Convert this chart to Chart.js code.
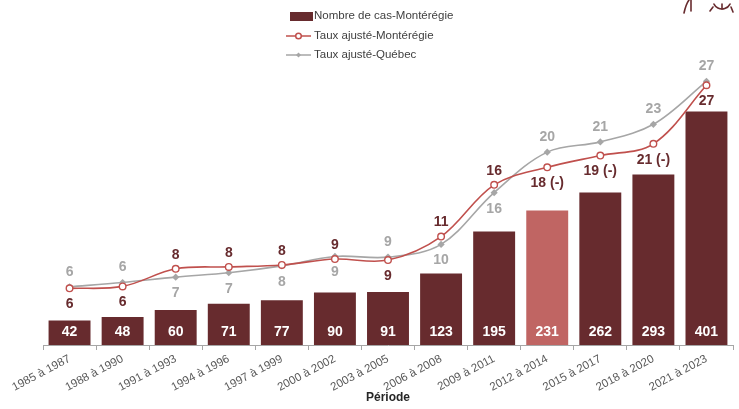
<!DOCTYPE html>
<html>
<head>
  <meta charset="utf-8">
  <script src="https://cdn.jsdelivr.net/npm/chart.js"></script>
  <style>
    html, body { margin: 0; padding: 0; background: #fff; }
    #wrap { width: 739px; height: 409px; position: relative; }
  </style>
</head>
<body>
  <div id="wrap"><canvas id="chart" width="739" height="409"></canvas></div>
  <script>
    // data
    const periods = ['1985 à 1987', '1988 à 1990', '1991 à 1993', '1994 à 1996', '1997 à 1999',
      '2000 à 2002', '2003 à 2005', '2006 à 2008', '2009 à 2011', '2012 à 2014',
      '2015 à 2017', '2018 à 2020', '2021 à 2023'];
    const casMonteregie = [42, 48, 60, 71, 77, 90, 91, 123, 195, 231, 262, 293, 401];
    const tauxMonteregie = [5.8, 6.0, 7.8, 8.0, 8.2, 8.8, 8.7, 11.1, 16.4, 18.2, 19.4, 20.6, 26.6];
    const tauxQuebec = [5.96, 6.4, 6.95, 7.4, 8.1, 9.07, 9.0, 10.3, 15.6, 19.75, 20.8, 22.6, 27.0];
    const suffixMonteregie = ['', '', '', '', '', '', '', '', '', ' (-)', ' (-)', ' (-)', ''];

    const FONT = '"Liberation Sans", Arial, sans-serif';
    const darkRed = '#672b2e';
    const lightRed = '#c06563';
    const lineRed = '#c0504d';
    const grey = '#a6a6a6';

    // where the Montérégie label sits (grey label goes the other way)
    const redLabelBelow = [true, true, false, false, false, false, true, false, false, true, true, true, true];

    const barColors = casMonteregie.map((v, i) => i === 9 ? lightRed : darkRed);

    const valueLabels = {
      id: 'valueLabels',
      afterDatasetsDraw(chart) {
        const ctx = chart.ctx;
        ctx.save();
        ctx.textAlign = 'center';
        ctx.textBaseline = 'middle';

        // bars: white numbers near the base
        const bars = chart.getDatasetMeta(0).data;
        ctx.font = 'bold 14px ' + FONT;
        ctx.fillStyle = '#ffffff';
        bars.forEach((b, i) => {
          ctx.fillText(casMonteregie[i], b.x, b.base - 13);
        });

        const red = chart.getDatasetMeta(1).data;
        const gry = chart.getDatasetMeta(2).data;
        red.forEach((p, i) => {
          const below = redLabelBelow[i];
          ctx.font = 'bold 14px ' + FONT;
          ctx.fillStyle = darkRed;
          ctx.fillText(Math.round(tauxMonteregie[i]) + suffixMonteregie[i], p.x, below ? p.y + 16 : p.y - 14);
        });
        gry.forEach((p, i) => {
          const below = !redLabelBelow[i];
          ctx.font = 'bold 14px ' + FONT;
          ctx.fillStyle = grey;
          ctx.fillText(Math.round(tauxQuebec[i]), p.x, below ? p.y + 16 : p.y - 15);
        });
        ctx.restore();
      }
    };

    const customLegend = {
      id: 'customLegend',
      afterDraw(chart) {
        const ctx = chart.ctx;
        const ds = chart.data.datasets;
        ctx.save();
        ctx.font = '11.5px ' + FONT;
        ctx.textBaseline = 'middle';

        // row 1: bar swatch
        ctx.fillStyle = darkRed;
        ctx.fillRect(290, 12, 23, 9);
        ctx.fillStyle = '#404040';
        ctx.fillText(ds[0].label, 314, 16);

        // row 2: red line with open circle
        ctx.strokeStyle = lineRed;
        ctx.lineWidth = 1.5;
        ctx.beginPath(); ctx.moveTo(286, 36); ctx.lineTo(311, 36); ctx.stroke();
        ctx.beginPath(); ctx.arc(298.5, 36, 2.8, 0, Math.PI * 2);
        ctx.fillStyle = '#fff'; ctx.fill(); ctx.stroke();
        ctx.fillStyle = '#404040';
        ctx.fillText(ds[1].label, 314, 36);

        // row 3: grey line with diamond
        ctx.strokeStyle = grey;
        ctx.beginPath(); ctx.moveTo(286, 55); ctx.lineTo(311, 55); ctx.stroke();
        ctx.fillStyle = grey;
        ctx.beginPath();
        ctx.moveTo(298.5, 52.5); ctx.lineTo(301, 55); ctx.lineTo(298.5, 57.5); ctx.lineTo(296, 55);
        ctx.closePath(); ctx.fill();
        ctx.fillStyle = '#404040';
        ctx.fillText(ds[2].label, 314, 55);

        // bit of the logo cut off at the top right
        ctx.strokeStyle = darkRed;
        ctx.lineWidth = 1.6;
        ctx.lineCap = 'round';
        ctx.beginPath(); ctx.moveTo(684, 13); ctx.quadraticCurveTo(686, 4, 689, 0); ctx.stroke();
        ctx.beginPath(); ctx.moveTo(691, 0); ctx.lineTo(691, 11); ctx.stroke();
        ctx.beginPath(); ctx.arc(722, 0, 9, 0.15 * Math.PI, 0.85 * Math.PI); ctx.stroke();
        ctx.beginPath(); ctx.moveTo(722, 9); ctx.lineTo(722, 4); ctx.stroke();
        ctx.beginPath(); ctx.moveTo(713, 7); ctx.lineTo(710, 11); ctx.stroke();
        ctx.beginPath(); ctx.moveTo(731, 7); ctx.lineTo(733, 12); ctx.stroke();
        ctx.restore();
      }
    };

    const ctx = document.getElementById('chart').getContext('2d');
    new Chart(ctx, {
      data: {
        labels: periods,
        datasets: [
          {
            type: 'bar',
            label: 'Nombre de cas-Montérégie',
            data: casMonteregie,
            backgroundColor: barColors,
            yAxisID: 'y',
            categoryPercentage: 1,
            barPercentage: 0.79,
            order: 3
          },
          {
            type: 'line',
            label: 'Taux ajusté-Montérégie',
            data: tauxMonteregie,
            borderColor: lineRed,
            borderWidth: 1.6,
            backgroundColor: '#ffffff',
            pointStyle: 'circle',
            pointRadius: 3.3,
            pointBorderWidth: 1.4,
            pointBorderColor: lineRed,
            pointBackgroundColor: '#ffffff',
            tension: 0.35,
            yAxisID: 'y1',
            order: 1
          },
          {
            type: 'line',
            label: 'Taux ajusté-Québec',
            data: tauxQuebec,
            borderColor: grey,
            borderWidth: 1.6,
            backgroundColor: grey,
            pointStyle: 'rectRot',
            pointRadius: 3.6,
            pointBorderWidth: 0,
            pointBackgroundColor: grey,
            tension: 0.35,
            yAxisID: 'y1',
            order: 2
          }
        ]
      },
      options: {
        responsive: false,
        animation: false,
        layout: { padding: { left: 43, right: 6, top: 54, bottom: 0 } },
        plugins: {
          legend: { display: false },
          tooltip: { enabled: false }
        },
        scales: {
          x: {
            offset: true,
            grid: {
              display: true,
              drawOnChartArea: false,
              drawTicks: true,
              tickLength: 5,
              color: grey,
              offset: true
            },
            border: { display: true, color: grey, width: 1 },
            ticks: {
              minRotation: 28,
              maxRotation: 28,
              autoSkip: false,
              color: '#595959',
              font: { family: FONT, size: 11.5 },
              padding: 2
            },
            title: {
              display: true,
              text: 'Période',
              color: '#262626',
              font: { family: FONT, size: 12, weight: 'bold' },
              padding: { top: 0, bottom: 4 }
            },
            afterFit(scale) { scale.height = 64; }
          },
          y: { display: false, min: 0, max: 500 },
          y1: { display: false, min: 0, max: 29.8 }
        }
      },
      plugins: [valueLabels, customLegend]
    });
  </script>
</body>
</html>
